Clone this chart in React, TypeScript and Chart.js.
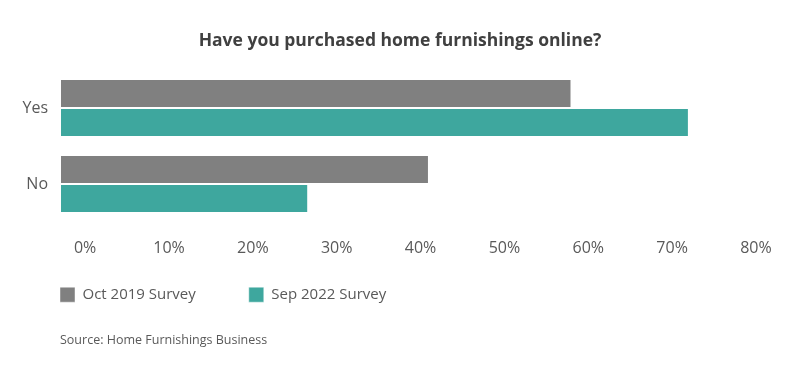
import React, { useEffect, useRef } from "react";
import { Chart, registerables } from "chart.js";

Chart.register(...registerables);

const categories = ["Yes", "No"];
const oct2019 = [58, 41];
const sep2022 = [72, 26.6];
const seriesNames = ["Oct 2019 Survey", "Sep 2022 Survey"];
const tickValues = [0, 10, 20, 30, 40, 50, 60, 70, 80];
const axisMin = -3;
const axisMax = 85.25;

const FONT = "'Open Sans', sans-serif";

export default function App() {
  const ref = useRef<HTMLCanvasElement | null>(null);

  useEffect(() => {
    if (!ref.current) return;
    const legendShift = {
      id: "legendShift",
      afterLayout(chart: any) {
        if (chart.legend) {
          chart.legend.left += 7;
          chart.legend.top -= 24;
          chart.legend.bottom -= 24;
        }
      },
    };
    const chart = new Chart(ref.current, {
      type: "bar",
      data: {
        labels: categories,
        datasets: [
          {
            label: seriesNames[0],
            data: oct2019,
            base: axisMin,
            backgroundColor: "#808080",
            borderColor: "rgba(255,255,255,0.45)",
            borderWidth: 1,
            borderSkipped: false,
            categoryPercentage: 0.763,
            barPercentage: 1,
          } as any,
          {
            label: seriesNames[1],
            data: sep2022,
            base: axisMin,
            backgroundColor: "#3ea79e",
            borderColor: "rgba(255,255,255,0.45)",
            borderWidth: 1,
            borderSkipped: false,
            categoryPercentage: 0.763,
            barPercentage: 1,
          } as any,
        ],
      },
      options: {
        indexAxis: "y",
        animation: false,
        responsive: true,
        maintainAspectRatio: false,
        layout: { padding: 0 },
        scales: {
          x: {
            min: axisMin,
            max: axisMax,
            afterBuildTicks: (axis: any) => {
              axis.ticks = tickValues.map((v) => ({ value: v }));
            },
            afterFit: (axis: any) => {
              axis.height -= 17;
            },
            grid: { display: false, drawTicks: false },
            border: { display: false },
            ticks: {
              padding: 17,
              color: "#595959",
              font: { family: FONT, size: 16 },
              maxRotation: 0,
              callback: (v: any) => v + "%",
            },
          },
          y: {
            afterFit: (axis: any) => {
              axis.width = 60;
            },
            grid: { display: false, drawTicks: false },
            border: { display: false },
            ticks: {
              padding: 12,
              color: "#595959",
              font: { family: FONT, size: 16 },
            },
          },
        },
        plugins: {
          title: {
            display: true,
            text: "Have you purchased home furnishings online?",
            color: "#404040",
            font: { family: FONT, size: 17.5, weight: "bold" },
            padding: { top: 31, bottom: 18 },
          },
          subtitle: {
            display: true,
            position: "bottom",
            align: "start",
            fullSize: false,
            text: "Source: Home Furnishings Business",
            color: "#595959",
            font: { family: FONT, size: 12.5 },
            padding: { top: -3, bottom: 32.8 },
          },
          legend: {
            display: true,
            position: "bottom",
            align: "start",
            labels: {
              boxWidth: 15,
              boxHeight: 15,
              padding: 53,
              color: "#595959",
              font: { family: FONT, size: 15 },
            },
          },
          tooltip: { enabled: false },
        },
      },
      plugins: [legendShift],
    } as any);
    return () => chart.destroy();
  }, []);

  return (
    <div style={{ position: "fixed", left: 0, top: 0, width: 800, height: 381, background: "#fff" }}>
      <canvas ref={ref} />
    </div>
  );
}
